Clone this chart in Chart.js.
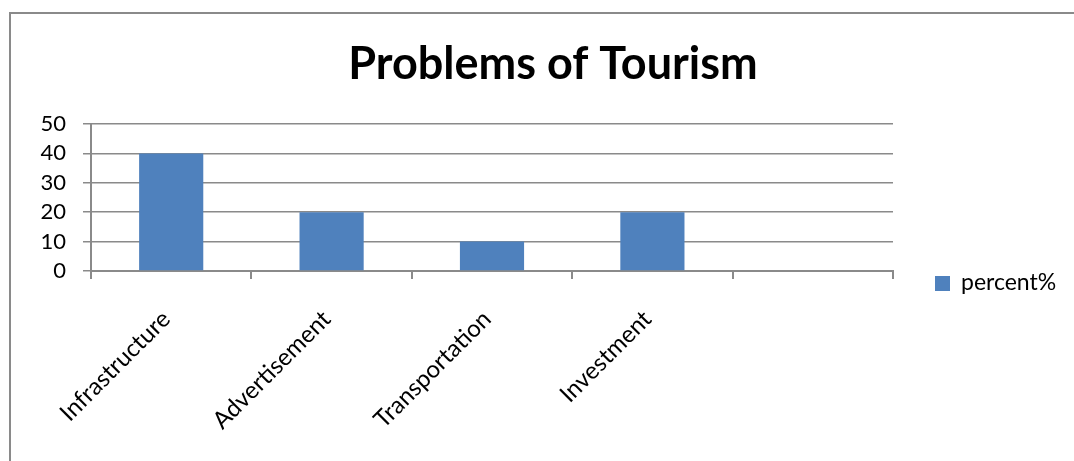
<!DOCTYPE html>
<html>
<head>
<meta charset="utf-8">
<script src="https://cdn.jsdelivr.net/npm/chart.js@4.4.0/dist/chart.umd.min.js"></script>
<style>
  html, body { margin: 0; padding: 0; background: #fff; overflow: hidden; }
  #frame {
    position: absolute; left: 9px; top: 12px; width: 1200px; height: 600px;
    border-top: 2px solid #8a8a8a; border-left: 2px solid #8a8a8a;
  }
  #wrap { position: absolute; left: 0; top: 0; width: 1074px; height: 461px; }
</style>
</head>
<body>
<div id="frame"></div>
<div id="wrap"><canvas id="chart" width="1074" height="461"></canvas></div>
<script>
// chart data
const categories = ['Infrastructure', 'Advertisement', 'Transportation', 'Investment', ''];
const percentValues = [40, 20, 10, 20, null];
const seriesLabel = 'percent%';
const chartTitle = 'Problems of Tourism';
const yTicks = [0, 10, 20, 30, 40, 50];

const fontFamily = 'Lato, "Open Sans", sans-serif';
const barColor = '#4F81BD';
const gridColor = '#8a8a8a';

// title centred on the whole frame and legend at the right, like the original
const frameText = {
  id: 'frameText',
  afterDraw(chart) {
    const ctx = chart.ctx;
    const ds = chart.data.datasets[0];
    ctx.save();
    ctx.fillStyle = '#000';
    ctx.font = 'bold 45px ' + fontFamily;
    ctx.textAlign = 'center';
    ctx.textBaseline = 'alphabetic';
    ctx.fillText(chartTitle, 553, 79);

    ctx.fillStyle = ds.backgroundColor;
    ctx.fillRect(935, 276, 15, 15);
    ctx.fillStyle = '#000';
    ctx.font = '23px ' + fontFamily;
    ctx.textBaseline = 'middle';
    ctx.textAlign = 'left';
    ctx.fillText(ds.label, 961, 283);
    ctx.restore();
  }
};

new Chart(document.getElementById('chart').getContext('2d'), {
  type: 'bar',
  data: {
    labels: categories,
    datasets: [{
      label: seriesLabel,
      data: percentValues,
      backgroundColor: barColor,
      borderWidth: 0,
      barPercentage: 1,
      categoryPercentage: 0.4
    }]
  },
  options: {
    responsive: false,
    animation: false,
    layout: { padding: { left: 0, right: 181, top: 124, bottom: 0 } },
    plugins: {
      legend: { display: false },
      tooltip: { enabled: false },
      title: { display: false }
    },
    scales: {
      x: {
        offset: true,
        afterFit(s) { s.height = 190; },
        grid: {
          offset: true,
          drawOnChartArea: false,
          drawTicks: true,
          tickLength: 8,
          color: gridColor,
          lineWidth: 2
        },
        border: { color: gridColor, width: 2 },
        ticks: {
          minRotation: 45,
          maxRotation: 45,
          autoSkip: false,
          padding: 26,
          labelOffset: -5,
          color: '#000',
          font: { family: fontFamily, size: 24 }
        }
      },
      y: {
        min: 0,
        max: 50,
        afterFit(s) { s.width = 91; },
        afterBuildTicks(s) { s.ticks = yTicks.map(v => ({ value: v })); },
        grid: {
          color: gridColor,
          lineWidth: 1.5,
          tickLength: 8
        },
        border: { color: gridColor, width: 2 },
        ticks: {
          padding: 17,
          color: '#000',
          font: { family: fontFamily, size: 22 }
        }
      }
    }
  },
  plugins: [frameText]
});
</script>
</body>
</html>
